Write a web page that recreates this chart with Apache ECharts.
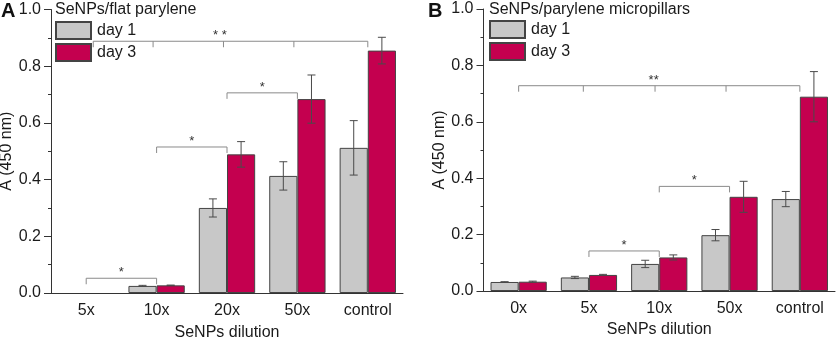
<!DOCTYPE html>
<html>
<head>
<meta charset="utf-8">
<script src="https://cdn.jsdelivr.net/npm/echarts@6/dist/echarts.min.js"></script>
<style>
  html, body { margin: 0; padding: 0; background: #fff; }
  #chart { width: 837px; height: 339px; }
</style>
</head>
<body>
<div id="chart"></div>
<script>
// panel A: flat parylene (no bars at 5x)
const catsA = ['5x', '10x', '20x', '50x', 'control'];
const day1A = [null, 0.025, 0.300, 0.413, 0.512];
const day1ErrA = [0, 0.002, 0.032, 0.050, 0.096];
const day3A = [null, 0.027, 0.489, 0.684, 0.855];
const day3ErrA = [0, 0.001, 0.045, 0.085, 0.047];
// significance brackets: from/to/ticks in category units
const bracketsA = [
    { from: 0, to: 1, y: 0.052, ticks: [], text: '*', at: 0.5 },
    { from: 1, to: 2, y: 0.515, ticks: [], text: '*', at: 1.5 },
    { from: 2, to: 3, y: 0.706, ticks: [], text: '*', at: 2.5 },
    { from: 0.1, to: 4, y: 0.888, ticks: [0.95, 1.95, 2.95], text: '* *', at: 1.9 }
];

// panel B: parylene micropillars
const catsB = ['0x', '5x', '10x', '50x', 'control'];
const day1B = [0.032, 0.048, 0.096, 0.198, 0.326];
const day1ErrB = [0.001, 0.004, 0.013, 0.020, 0.027];
const day3B = [0.033, 0.057, 0.119, 0.334, 0.689];
const day3ErrB = [0.002, 0.002, 0.009, 0.055, 0.089];
const bracketsB = [
    { from: 1, to: 2, y: 0.142, ticks: [], text: '*', at: 1.5 },
    { from: 2, to: 3, y: 0.371, ticks: [], text: '*', at: 2.5 },
    { from: 0, to: 4, y: 0.728, ticks: [0.92, 1.94, 2.95], text: '**', at: 1.92 }
];

const yTicks = [0, 0.2, 0.4, 0.6, 0.8, 1.0];

const FONT = '"Liberation Sans", Arial, sans-serif';
const GREY = '#c8c8c8';
const RED = '#c4004f';
const INK = '#1a1a1a';

const myChart = echarts.init(document.getElementById('chart'));

function errorSeries(xIdx, yIdx, vals, errs, side) {
    return {
        type: 'custom',
        xAxisIndex: xIdx,
        yAxisIndex: yIdx,
        z: 5,
        silent: true,
        data: vals.map((v, i) => [i, v == null ? '-' : v, errs[i]]),
        renderItem(params, api) {
            const i = api.value(0);
            const v = api.value(1);
            const e = api.value(2);
            if (isNaN(v)) return null;
            const band = api.size([1, 0])[0];
            const x = api.coord([i, v])[0] + side * band * 0.2;
            const yt = api.coord([i, v + e])[1];
            const yb = api.coord([i, Math.max(v - e, 0)])[1];
            const st = { stroke: '#4a4a4a', lineWidth: 1 };
            return {
                type: 'group',
                children: [
                    { type: 'line', shape: { x1: x, y1: yt, x2: x, y2: yb }, style: st },
                    { type: 'line', shape: { x1: x - 4, y1: yt, x2: x + 4, y2: yt }, style: st },
                    { type: 'line', shape: { x1: x - 4, y1: yb, x2: x + 4, y2: yb }, style: st }
                ]
            };
        }
    };
}

function bracketSeries(xIdx, yIdx, list) {
    return {
        type: 'custom',
        xAxisIndex: xIdx,
        yAxisIndex: yIdx,
        z: 6,
        silent: true,
        data: list.map(b => [0, b.y]),
        renderItem(params, api) {
            const b = list[params.dataIndex];
            const band = api.size([1, 0])[0];
            const x0 = api.coord([0, b.y])[0];
            const y = api.coord([0, b.y])[1];
            const px = c => x0 + c * band;
            const st = { stroke: '#8a8a8a', lineWidth: 1 };
            const kids = [
                { type: 'line', shape: { x1: px(b.from), y1: y, x2: px(b.to), y2: y }, style: st },
                { type: 'line', shape: { x1: px(b.from), y1: y, x2: px(b.from), y2: y + 6 }, style: st },
                { type: 'line', shape: { x1: px(b.to), y1: y, x2: px(b.to), y2: y + 6 }, style: st }
            ];
            b.ticks.forEach(t => {
                kids.push({ type: 'line', shape: { x1: px(t), y1: y, x2: px(t), y2: y + 6 }, style: st });
            });
            kids.push({
                type: 'text',
                style: {
                    text: b.text, x: px(b.at), y: y + 1,
                    textAlign: 'center', textVerticalAlign: 'bottom',
                    font: '13px ' + FONT, fill: '#333'
                }
            });
            return { type: 'group', children: kids };
        }
    };
}

function mainX(grid, cats, gap) {
    return {
        type: 'category',
        gridIndex: grid,
        data: cats,
        axisLine: { lineStyle: { color: '#333', width: 1 } },
        axisTick: { alignWithLabel: true, length: 7, lineStyle: { color: '#333' } },
        axisLabel: { fontSize: 16, color: INK, fontFamily: FONT, margin: 10 },
        name: 'SeNPs dilution',
        nameLocation: 'middle',
        nameGap: gap,
        nameTextStyle: { fontSize: 16, color: INK, fontFamily: FONT }
    };
}

function boundaryX(grid, cats) {
    return {
        type: 'category',
        gridIndex: grid,
        data: cats,
        axisLine: { show: false },
        axisTick: { length: 4, lineStyle: { color: '#333' } },
        axisLabel: { show: false }
    };
}

function valueY(grid, gap) {
    return {
        type: 'value',
        gridIndex: grid,
        min: 0,
        max: 1,
        interval: 0.2,
        axisLine: { show: true, lineStyle: { color: '#333', width: 1 } },
        axisTick: { show: true, length: 7, lineStyle: { color: '#333' } },
        minorTick: { show: true, splitNumber: 2, length: 3, lineStyle: { color: '#333' } },
        splitLine: { show: false },
        axisLabel: {
            fontSize: 16, color: INK, fontFamily: FONT, margin: 10,
            formatter: v => yTicks.includes(Math.round(v * 10) / 10) ? v.toFixed(1) : ''
        },
        name: 'A (450 nm)',
        nameLocation: 'middle',
        nameGap: gap,
        nameTextStyle: { fontSize: 16, color: INK, fontFamily: FONT }
    };
}

function barSeries(name, xIdx, yIdx, vals, color) {
    return {
        type: 'bar',
        name: name,
        xAxisIndex: xIdx,
        yAxisIndex: yIdx,
        data: vals,
        barGap: '0%',
        barCategoryGap: '20%',
        itemStyle: { color: color, borderColor: '#444', borderWidth: 1 }
    };
}

function legendAt(left, top) {
    return {
        left: left,
        top: top,
        orient: 'vertical',
        itemWidth: 35,
        itemHeight: 17,
        itemGap: 3,
        padding: 0,
        icon: 'rect',
        data: ['day 1', 'day 3'],
        textStyle: { fontSize: 16, color: INK, fontFamily: FONT, padding: [0, 0, 0, 1] }
    };
}

const option = {
    animation: false,
    title: [
        { text: 'A', left: 1, top: 1, padding: 0, textStyle: { fontSize: 20, fontWeight: 'bold', color: '#111', fontFamily: FONT } },
        { text: 'B', left: 428, top: 1, padding: 0, textStyle: { fontSize: 20, fontWeight: 'bold', color: '#111', fontFamily: FONT } },
        { text: 'SeNPs/flat parylene', left: 55, top: 2, padding: 0, textStyle: { fontSize: 16, fontWeight: 'normal', color: INK, fontFamily: FONT } },
        { text: 'SeNPs/parylene micropillars', left: 489, top: 2, padding: 0, textStyle: { fontSize: 16, fontWeight: 'normal', color: INK, fontFamily: FONT } }
    ],
    legend: [legendAt(55, 21), legendAt(489, 20)],
    grid: [
        { left: 51, right: 434, top: 9.5, bottom: 46, outerBoundsMode: 'none' },
        { left: 483.5, right: 2, top: 9, bottom: 48, outerBoundsMode: 'none' }
    ],
    xAxis: [mainX(0, catsA, 32), boundaryX(0, catsA), mainX(1, catsB, 30), boundaryX(1, catsB)],
    yAxis: [valueY(0, 36), valueY(1, 34)],
    series: [
        barSeries('day 1', 0, 0, day1A, GREY),
        barSeries('day 3', 0, 0, day3A, RED),
        errorSeries(0, 0, day1A, day1ErrA, -1),
        errorSeries(0, 0, day3A, day3ErrA, 1),
        bracketSeries(0, 0, bracketsA),
        barSeries('day 1', 2, 1, day1B, GREY),
        barSeries('day 3', 2, 1, day3B, RED),
        errorSeries(2, 1, day1B, day1ErrB, -1),
        errorSeries(2, 1, day3B, day3ErrB, 1),
        bracketSeries(2, 1, bracketsB)
    ]
};

myChart.setOption(option);
</script>
</body>
</html>
